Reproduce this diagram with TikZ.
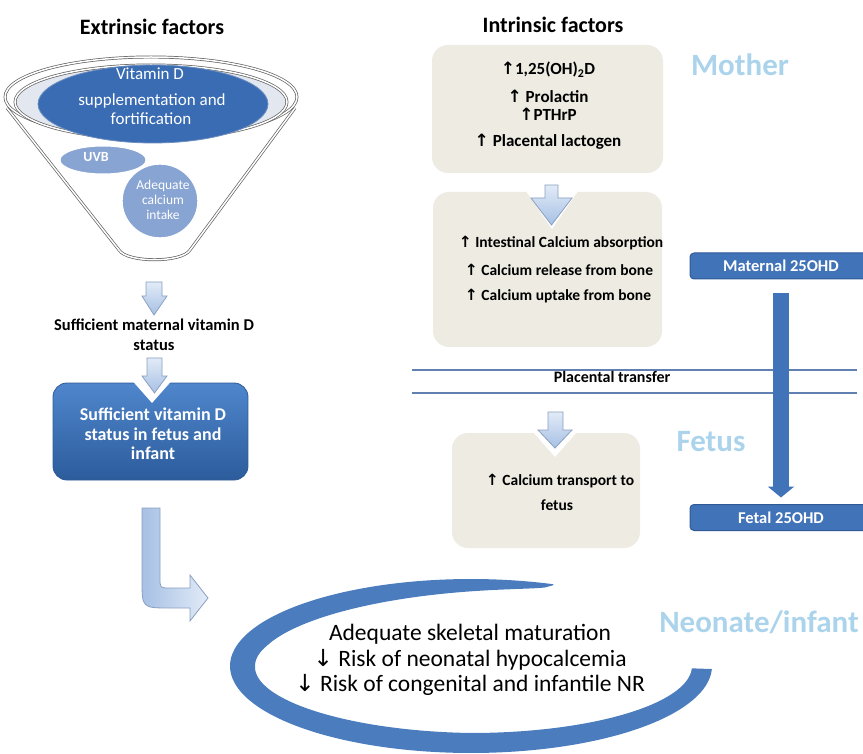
\documentclass[tikz,border=0pt]{standalone}
\usepackage{fontspec}
\setmainfont{Carlito}
\newfontfamily\arrowfont{DejaVu Sans}
\usetikzlibrary{arrows.meta,shapes.geometric}
\definecolor{dblue}{HTML}{4173B8}
\definecolor{dbluetop}{HTML}{4F86CC}
\definecolor{dbluebot}{HTML}{2C5C9C}
\definecolor{dedge}{HTML}{2F5A96}
\definecolor{beige}{HTML}{EDEBE2}
\definecolor{regblue}{HTML}{ABD4EC}
\definecolor{lineblue}{HTML}{5F80B0}
\definecolor{ltop}{HTML}{E2EBF7}
\definecolor{lbot}{HTML}{A6C0E4}
\definecolor{ledge}{HTML}{8A9FC2}
\definecolor{midblue}{HTML}{88A4D2}
\definecolor{crescentblue}{HTML}{4A7CBE}
\definecolor{rimfill}{HTML}{E3E8F0}
\definecolor{funnelline}{HTML}{606060}
\definecolor{ellfill}{HTML}{3A6CB3}
\definecolor{elledge}{HTML}{6D8FC0}
\newcommand{\upa}{{\arrowfont ↑}}
\newcommand{\dna}{{\arrowfont ↓}}
\begin{document}
\begin{tikzpicture}[x=1pt,y=-1pt,
  declare function={cw(\a)=min(25,1+24*sqrt(max(0,(\a-70)/90)))-max(0,min(5,5*(\a-180)/90));},
  title/.style={font=\fontsize{22}{26}\selectfont\bfseries, inner sep=0},
  region/.style={font=\fontsize{31}{35}\selectfont\bfseries, text=regblue, inner sep=0},
  fline/.style={draw=funnelline, double=white, double distance=1.5pt, line width=0.7pt},
  ell/.style={ellipse, inner sep=0},
  larrow/.style={draw=ledge, line width=0.8pt, top color=ltop, bottom color=lbot},
  onetxt/.style={inner sep=0, text height=.68em, text depth=.18em},
  bonetxt/.style={onetxt, font=\fontsize{17}{20}\selectfont\bfseries},
  btwotxt/.style={onetxt, font=\fontsize{15.5}{18}\selectfont\bfseries},
  stattxt/.style={inner sep=0, align=center, font=\fontsize{16.5}{20}\selectfont\bfseries},
  whitetxt/.style={onetxt, text=white, font=\fontsize{17}{20}\selectfont},
  obox/.style={fill=dblue, draw=dedge, line width=1pt, rounded corners=4pt,
    minimum width=182pt, minimum height=26pt, inner sep=0, text=white,
    font=\fontsize{16.5}{20}\selectfont\bfseries}
]
\useasboundingbox (0,0) rectangle (863,754);
\clip (0,0) rectangle (863,754);

% ---------- titles and region labels
\node[title] (ext) at (152,27) {Extrinsic factors};
\node[title] (intr) at (553,25) {Intrinsic factors};
\node[region] (mother) at (740,65) {Mother};
\node[region] (fetus) at (711,442) {Fetus};
\node[region] (neo) at (759,622) {Neonate/infant};

% ---------- funnel
\path[fline, fill=white] (7,108) -- (119,250) .. controls (127,263) and (182,263) .. (190,250) -- (295,108);
\node[ell, fline, fill=white, minimum width=292pt, minimum height=80pt] (rimout) at (151,97) {};
\node[ell, fline, fill=rimfill, minimum width=272pt, minimum height=74pt] (rimin) at (151,102) {};
\node[ell, fill=ellfill, draw=elledge, line width=0.8pt, minimum width=230pt, minimum height=78pt] (vitd) at (153,104) {};
\node[whitetxt] (vit1) at (150,77) {Vitamin D};
\node[whitetxt] (vit2) at (152,103) {supplementation and};
\node[whitetxt] (vit3) at (151,122) {fortification};
\node[ell, fill=midblue, draw=white, line width=1pt, minimum width=86pt, minimum height=28pt] (uvbell) at (103,160) {};
\node[onetxt, text=white, font=\fontsize{14}{16}\selectfont\bfseries] (uvb) at (96,159) {UVB};
\node[ell, fill=midblue, draw=white, line width=1.4pt, minimum width=76pt, minimum height=74pt] (calcell) at (160,201) {};
\node[inner sep=0, align=center, text=white, font=\fontsize{13.5}{15}\selectfont] (calc) at (163,200) {Adequate\\calcium\\intake};

% ---------- left flow
\path[larrow] (146,282) -- (162,282) -- (162,296) -- (167,296) -- (154,315) -- (142,296) -- (146,296) -- cycle;
\node[stattxt] (matstat) at (154,335) {Sufficient maternal vitamin D\\status};
\path[top color=dbluetop, bottom color=dbluebot, draw=dedge, line width=0.8pt, rounded corners=14pt] (53,383) rectangle (248,480);
\fill[white] (133,381.5) -- (152,403) -- (171,381.5) -- cycle;
\path[larrow] (147,358) -- (162,358) -- (162,376) -- (167,376) -- (154.5,393) -- (142,376) -- (147,376) -- cycle;
\node[inner sep=0, align=center, text=white, font=\fontsize{18}{19.5}\selectfont\bfseries] (fetstat) at (153,434) {Sufficient vitamin D\\status in fetus and\\infant};
\path[draw=ledge, line width=0.8pt, left color=lbot, right color=ltop]
  (142,508) -- (160,508) -- (160,578) .. controls (160,588) .. (170,588) -- (190,588) -- (190,575)
  -- (208,598) -- (190,621) -- (190,608) -- (170,608) .. controls (142,608) .. (142,580) -- cycle;

% ---------- intrinsic boxes
\fill[beige, rounded corners=16pt] (432,45) rectangle (663,173);
\node[bonetxt] (i1) at (548,72) {\upa1,25(OH)\textsubscript{2}D};
\node[bonetxt] (i2) at (548,100) {\upa{} Prolactin};
\node[bonetxt] (i3) at (548,118) {\upa PTHrP};
\node[bonetxt] (i4) at (548,144) {\upa{} Placental lactogen};

\fill[beige, rounded corners=16pt] (433,192) rectangle (662,347);
\fill[white] (526,191) -- (552,229) -- (578,191) -- cycle;
\path[larrow] (545,185) -- (558,185) -- (558,198) -- (572,198) -- (551.5,225) -- (531,198) -- (545,198) -- cycle;
\node[btwotxt] (c1) at (561,245) {\upa{} Intestinal Calcium absorption};
\node[btwotxt] (c2) at (559,273) {\upa{} Calcium release from bone};
\node[btwotxt] (c3) at (558,298) {\upa{} Calcium uptake from bone};

\draw[lineblue, line width=1.3pt] (412,370) -- (857,370);
\draw[lineblue, line width=1.3pt] (412,393) -- (857,393);
\node[onetxt, font=\fontsize{16}{19}\selectfont\bfseries] (plac) at (612,380) {Placental transfer};

\fill[beige, rounded corners=16pt] (452,433) rectangle (640,548);
\fill[white] (533,432) -- (555,457) -- (577,432) -- cycle;
\path[larrow] (548,412) -- (563,412) -- (563,430) -- (572,430) -- (555,448) -- (538,430) -- (548,430) -- cycle;
\node[btwotxt] (t1) at (560,483) {\upa{} Calcium transport to};
\node[btwotxt] (t2) at (557,508) {fetus};

% ---------- 25OHD
\node[obox] (mat) at (781,266) {Maternal 25OHD};
\node[obox] (fet) at (781,517.5) {Fetal 25OHD};
\draw[line width=16pt, dblue, -{Triangle[width=26pt,length=11pt]}] ([yshift=-14pt]mat.south) -- ([yshift=6.5pt]fet.north);

% ---------- crescent and outcome
\fill[crescentblue] plot[domain=70:358, samples=150, variable=\t] ({471+241*cos(\t)},{666-87*sin(\t)})
  -- plot[domain=358:70, samples=150, variable=\t] ({471+(241-cw(\t))*cos(\t)},{666-(87-cw(\t))*sin(\t)}) -- cycle;
\node[inner sep=0, align=center, font=\fontsize{23.5}{25.5}\selectfont] (res) at (470,660)
  {Adequate skeletal maturation\\\dna{} Risk of neonatal hypocalcemia\\\dna{} Risk of congenital and infantile NR};
\end{tikzpicture}
\end{document}
